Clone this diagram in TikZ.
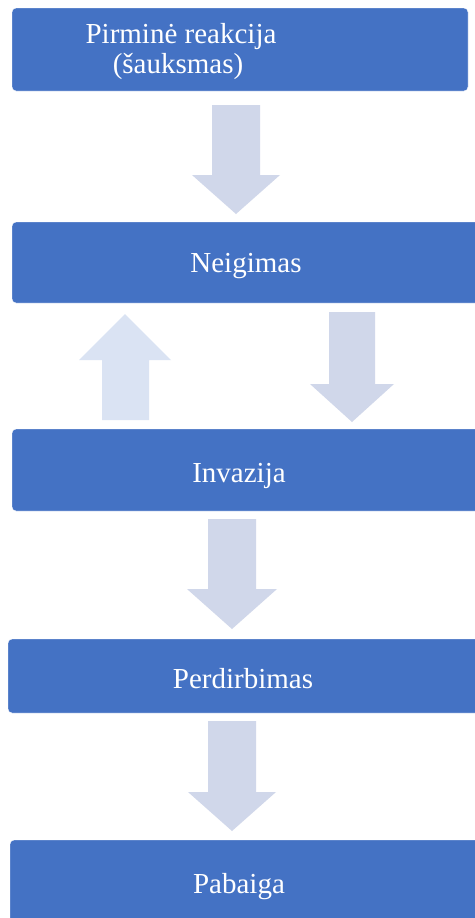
\documentclass[tikz,border=0pt]{standalone}
\usepackage{fontspec}
\setmainfont{Liberation Serif}
\definecolor{boxblue}{HTML}{4472C4}
\definecolor{arrdown}{HTML}{D0D7EA}
\definecolor{arrup}{HTML}{DAE3F3}
\newcommand{\dnarrowshape}[7]{% name, xc, ytop, yheadbase, ytip, shaft half, head half
  \fill[#1] ({#2-#6},#3) -- ({#2+#6},#3) -- ({#2+#6},#4) -- ({#2+#7},#4) -- (#2,#5) -- ({#2-#7},#4) -- ({#2-#6},#4) -- cycle;}
\begin{document}
\begin{tikzpicture}[x=1pt,y=-1pt,
  stagebox/.style={draw=white, line width=0.4pt, fill=boxblue, rounded corners=4pt},
  stagetext/.style={anchor=base, text=white, inner sep=0pt, font=\fontsize{29}{30}\selectfont},
  downarr/.style={fill=arrdown},
  uparr/.style={fill=arrup}]
\useasboundingbox (0,0) rectangle (474,918);
\fill[white] (0,0) rectangle (474,918);
% boxes
\draw[stagebox] (12,8) rectangle (468,91);
\draw[stagebox] (12,222) rectangle (482,303);
\draw[stagebox] (12,429) rectangle (482,511);
\draw[stagebox] (8,639) rectangle (482,713);
\draw[stagebox] (10,840) rectangle (482,922);
% texts
\node[stagetext] (t1a) at (181,43) {Pirminė reakcija};
\node[stagetext] (t1b) at (178,73) {(šauksmas)};
\node[stagetext] (t2) at (246,272) {Neigimas};
\node[stagetext] (t3) at (239,482) {Invazija};
\node[stagetext] (t4) at (243,688) {Perdirbimas};
\node[stagetext] (t5) at (239,893) {Pabaiga};
% arrows
\dnarrowshape{downarr}{236}{105}{175}{214}{24}{44}
\dnarrowshape{downarr}{352}{312}{384}{422}{23}{42}
\dnarrowshape{downarr}{232}{519}{589}{629}{24}{45}
\dnarrowshape{downarr}{232}{721}{792}{831}{24}{44}
% up arrow
\fill[uparr] (102,420) -- (149,420) -- (149,360) -- (171,360) -- (125,314) -- (79,360) -- (102,360) -- cycle;
\end{tikzpicture}
\end{document}
